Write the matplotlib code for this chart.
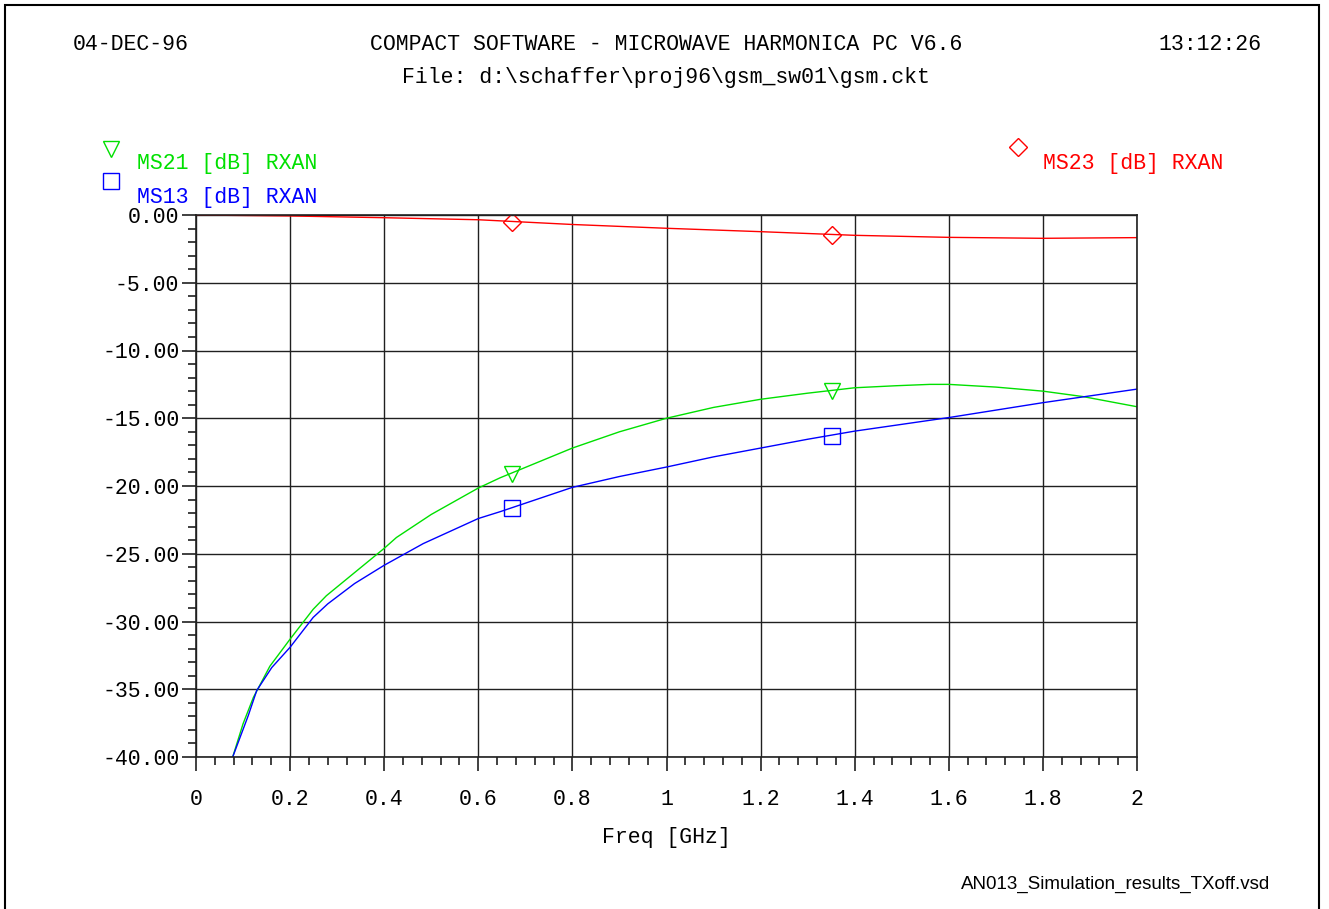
"""
Microwave Harmonica plot: MS21 / MS13 / MS23 vs frequency
"""
import matplotlib
matplotlib.use('Agg')
import matplotlib.pyplot as plt
from matplotlib.patches import Rectangle
from matplotlib.ticker import MultipleLocator, FuncFormatter

# data
freq_ms21 = [0.078, 0.10, 0.122, 0.157, 0.20, 0.249, 0.277, 0.40, 0.426, 0.50, 0.60, 0.646,
             0.80, 0.90, 1.00, 1.10, 1.20, 1.30, 1.40, 1.488, 1.56, 1.60, 1.70, 1.80, 1.885, 2.00]
ms21 = [-40.0, -37.55, -35.6, -33.3, -31.3, -29.1, -28.1, -24.6, -23.8, -22.1, -20.15, -19.4,
        -17.2, -16.0, -15.0, -14.2, -13.6, -13.15, -12.75, -12.6, -12.5, -12.5, -12.7, -13.0,
        -13.4, -14.15]

freq_ms13 = [0.078, 0.111, 0.129, 0.161, 0.20, 0.249, 0.28, 0.337, 0.40, 0.483, 0.60, 0.646,
             0.80, 0.90, 1.00, 1.10, 1.20, 1.30, 1.40, 1.50, 1.60, 1.70, 1.80, 1.90, 2.00]
ms13 = [-40.0, -36.95, -35.1, -33.4, -31.9, -29.7, -28.7, -27.2, -25.85, -24.25, -22.4, -21.9,
        -20.1, -19.3, -18.6, -17.85, -17.2, -16.55, -15.95, -15.45, -14.95, -14.4, -13.85,
        -13.35, -12.85]

freq_ms23 = [0.0, 0.2, 0.4, 0.6, 0.8, 1.0, 1.2, 1.4, 1.6, 1.8, 2.0]
ms23 = [0.0, -0.07, -0.2, -0.35, -0.7, -0.98, -1.23, -1.5, -1.65, -1.72, -1.67]

marker_freq = [0.671, 1.351]
marker_ms21 = [-19.15, -13.0]
marker_ms13 = [-21.6, -16.3]
marker_ms23 = [-0.5, -1.48]

GREEN = '#00e000'
BLUE = '#0000ff'
RED = '#ff0000'
INK = '#202020'
FS = 15.5

plt.rcParams['font.family'] = 'Liberation Mono'

fig = plt.figure(figsize=(13.29, 9.09), dpi=100)
W, H = 1329, 909

def fx(px):
    return px / W

def fy(py):
    return 1 - py / H

ax = fig.add_axes([fx(196), fy(757), fx(1137) - fx(196), fy(215) - fy(757)])

ax.plot(freq_ms23, ms23, color=RED, lw=1)
ax.plot(freq_ms21, ms21, color=GREEN, lw=1)
ax.plot(freq_ms13, ms13, color=BLUE, lw=1)
ax.plot(marker_freq, marker_ms23, ls='none', marker='D', ms=9, mfc='none', mec=RED, mew=1)
ax.plot(marker_freq, marker_ms21, ls='none', marker='v', ms=12, mfc='none', mec=GREEN, mew=1)
ax.plot(marker_freq, marker_ms13, ls='none', marker='s', ms=11, mfc='none', mec=BLUE, mew=1)

ax.set_xlim(0, 2)
ax.set_ylim(-40, 0)
ax.xaxis.set_major_locator(MultipleLocator(0.2))
ax.xaxis.set_minor_locator(MultipleLocator(0.04))
ax.yaxis.set_major_locator(MultipleLocator(5))
ax.yaxis.set_minor_locator(MultipleLocator(1))
ax.xaxis.set_major_formatter(FuncFormatter(lambda v, p: '%g' % round(v, 2)))
ax.yaxis.set_major_formatter(FuncFormatter(lambda v, p: '%.2f' % (0.0 if abs(v) < 1e-9 else v)))
ax.grid(True, which='major', color=INK, lw=1)
ax.tick_params(which='major', direction='out', length=10, width=1.2, color=INK,
               labelsize=FS)
ax.tick_params(axis='x', which='major', pad=13)
ax.tick_params(axis='y', which='major', pad=2)
ax.tick_params(which='minor', direction='out', length=6, width=1.2, color=INK)
for s in ax.spines.values():
    s.set_color(INK)
    s.set_linewidth(1.2)
ax.set_xlabel('Freq [GHz]', fontsize=FS, labelpad=12)

# header texts
fig.text(fx(73), fy(44), '04-DEC-96', fontsize=FS, va='center', ha='left')
fig.text(fx(666), fy(44), 'COMPACT SOFTWARE - MICROWAVE HARMONICA PC V6.6', fontsize=FS,
         va='center', ha='center')
fig.text(fx(1261), fy(44), '13:12:26', fontsize=FS, va='center', ha='right')
fig.text(fx(666), fy(78), 'File: d:\\schaffer\\proj96\\gsm_sw01\\gsm.ckt', fontsize=FS,
         va='center', ha='center')

# legend entries
fig.text(fx(137), fy(163), 'MS21 [dB] RXAN', fontsize=FS, color=GREEN, va='center')
fig.text(fx(137), fy(197), 'MS13 [dB] RXAN', fontsize=FS, color=BLUE, va='center')
fig.text(fx(1043), fy(163), 'MS23 [dB] RXAN', fontsize=FS, color=RED, va='center')
fig.lines.append(plt.Line2D([fx(111)], [fy(149)], transform=fig.transFigure, marker='v',
                            ms=12, mfc='none', mec=GREEN, mew=1, ls='none'))
fig.lines.append(plt.Line2D([fx(111)], [fy(181)], transform=fig.transFigure, marker='s',
                            ms=11, mfc='none', mec=BLUE, mew=1, ls='none'))
fig.lines.append(plt.Line2D([fx(1018)], [fy(147)], transform=fig.transFigure, marker='D',
                            ms=9, mfc='none', mec=RED, mew=1, ls='none'))

fig.text(fx(1270), fy(884), 'AN013_Simulation_results_TXoff.vsd', fontsize=13.5,
         family='Liberation Sans', va='center', ha='right')

# page border
fig.patches.append(Rectangle((fx(5), fy(920)), fx(1319) - fx(5), fy(5) - fy(920),
                             transform=fig.transFigure, fill=False, ec='black', lw=1.5,
                             clip_on=False))

fig.savefig('out.png', dpi=100)
